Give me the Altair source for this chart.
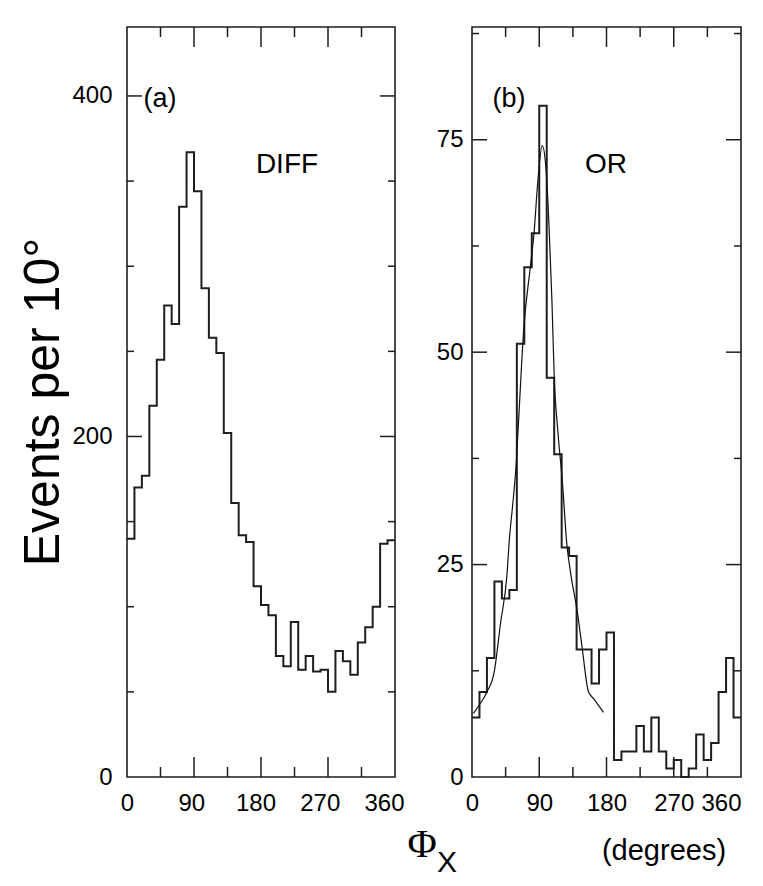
import altair as alt
import pandas as pd

# ---------------- data ----------------
edges = list(range(0, 370, 10))          # 0..360 bin edges (10 degree bins)
diff_counts = [140, 170, 177, 218, 245, 277, 266, 335, 367, 344, 287, 258,
               249, 202, 161, 142, 138, 112, 101, 95, 71, 65, 91, 63,
               71, 62, 63, 50, 74, 68, 60, 79, 88, 100, 137, 139]
or_counts = [7, 10, 14, 23, 21, 22, 51, 60, 64, 79, 47, 38,
             27, 26, 15, 15, 11, 15, 17, 2, 3, 3, 6, 3,
             7, 3, 1, 2, 0, 1, 5, 2, 4, 10, 14, 7]
fit_deg = [2, 10, 20, 30, 38, 47, 50, 54, 59, 63, 69, 78, 83, 88, 94, 99,
           101, 103, 107, 110, 115, 121, 127, 132, 141, 147, 156, 163, 176]
fit_val = [7.5, 8.5, 10, 12.5, 18, 24, 28, 31.6, 36.7, 43, 52.4, 60, 64, 70,
           74.3, 71.6, 68.8, 65, 56, 47.2, 40.6, 34.7, 27.3, 24, 19.4, 15.5,
           10, 9.2, 7.6]

x_labels = [0, 90, 180, 270, 360]
x_major = [90, 180, 270]
x_minor = [45, 135, 225, 315]
a_labels = [0, 200, 400]
a_major = [200, 400]
a_minor = [50, 100, 150, 250, 300, 350]
b_labels = [0, 25, 50, 75]
b_major = [25, 50, 75]
b_minor = [12.5, 37.5, 62.5, 87.5]

# ---------------- layout ----------------
WA, WB, H = 268, 269, 750
A_LABEL_SPAN = 257            # panel (a) labels sit slightly compressed
A_MAX = 440.5
B_MAX = 88.27
FONT = "Liberation Sans"
INK = "#1e1e1e"

xscale = alt.Scale(domain=[0, 360], nice=False, zero=False)


def x_axis(last_align):
    return alt.Axis(values=x_labels, title=None, ticks=False, domain=False,
                    tickSize=0, labelPadding=14, labelFlush=False,
                    labelOverlap=False, grid=False, orient="bottom",
                    labelAlign={"condition": {"test": "datum.value == 360",
                                              "value": last_align},
                                "value": "center"})


def y_axis(vals, pad):
    return alt.Axis(values=vals, title=None, ticks=False, domain=False,
                    tickSize=0, labelPadding=pad, labelOverlap=False,
                    grid=False)


def step_df(counts):
    return pd.DataFrame({"x": edges, "y": counts + [counts[-1]]})


def tick_layers(yscale, yax, xax, W, ymajor, yminor):
    layers = []
    for vals, ln in ((ymajor, 15), (yminor, 7)):
        df = pd.DataFrame({"y": vals})
        y = alt.Y("y:Q", scale=yscale, axis=yax)
        layers.append(alt.Chart(df).mark_rule(color=INK, strokeWidth=1.5).encode(
            y=y, x=alt.value(0), x2=alt.value(ln)))
        layers.append(alt.Chart(df).mark_rule(color=INK, strokeWidth=1.5).encode(
            y=y, x=alt.value(W), x2=alt.value(W - ln)))
    for vals, ln in ((x_major, 20), (x_minor, 10)):
        df = pd.DataFrame({"x": vals})
        x = alt.X("x:Q", scale=xscale, axis=xax)
        layers.append(alt.Chart(df).mark_rule(color=INK, strokeWidth=1.5).encode(
            x=x, y=alt.value(H), y2=alt.value(H - ln)))
        layers.append(alt.Chart(df).mark_rule(color=INK, strokeWidth=1.5).encode(
            x=x, y=alt.value(0), y2=alt.value(ln)))
    return layers


def label(txt, px, py, size, font=FONT, angle=0):
    kw = dict(fontSize=size, font=font, color="black", align="center",
              baseline="middle")
    if angle:
        kw["angle"] = angle
    return alt.Chart(alt.Data(values=[{}])).mark_text(**kw).encode(
        x=alt.value(px), y=alt.value(py), text=alt.value(txt))


# ---------------- panel (a) ----------------
ya = alt.Scale(domain=[0, A_MAX], nice=False, zero=False)
ya_axis = y_axis(a_labels, 15)
hist_a = alt.Chart(step_df(diff_counts)).mark_line(
    interpolate="step-after", color=INK, strokeWidth=2).encode(
    x=alt.X("x:Q", scale=xscale, axis=None),
    y=alt.Y("y:Q", scale=ya, axis=ya_axis))

# invisible layer that only carries the x tick labels of panel (a)
labels_a = alt.Chart(pd.DataFrame({"x": x_labels})).mark_point(
    opacity=0, size=1).encode(
    x=alt.X("x:Q", scale=alt.Scale(domain=[0, 360], range=[0, A_LABEL_SPAN],
                                   nice=False, zero=False),
            axis=x_axis("center")),
    y=alt.value(H / 2))

panel_a = alt.layer(
    alt.layer(hist_a, *tick_layers(ya, ya_axis, None, WA, a_major, a_minor),
              label("(a)", 33, 72, 27),
              label("DIFF", 160, 138, 28),
              label("Events per 10°", -83, 375, 50, angle=270)),
    labels_a,
).resolve_scale(x="independent").properties(width=WA, height=H)

# ---------------- panel (b) ----------------
yb = alt.Scale(domain=[0, B_MAX], nice=False, zero=False)
yb_axis = y_axis(b_labels, 9)
xb_axis = x_axis("right")
hist_b = alt.Chart(step_df(or_counts)).mark_line(
    interpolate="step-after", color=INK, strokeWidth=2).encode(
    x=alt.X("x:Q", scale=xscale, axis=xb_axis),
    y=alt.Y("y:Q", scale=yb, axis=yb_axis))
fit_b = alt.Chart(pd.DataFrame({"x": fit_deg, "y": fit_val})).mark_line(
    interpolate="monotone", color="#111", strokeWidth=1.2).encode(
    x=alt.X("x:Q", scale=xscale, axis=xb_axis),
    y=alt.Y("y:Q", scale=yb, axis=yb_axis))

panel_b = alt.layer(
    hist_b, fit_b, *tick_layers(yb, yb_axis, xb_axis, WB, b_major, b_minor),
    label("(b)", 37, 72, 27),
    label("OR", 134, 138, 28),
    label("Φ", -50, 818, 40, font="Liberation Serif"),
    label("X", -25, 836, 30),
    label("(degrees)", 192, 824, 29),
).properties(width=WB, height=H)

chart = alt.hconcat(panel_a, panel_b, spacing=77, bounds="flush").properties(
    padding={"left": 10, "top": 17, "right": 5, "bottom": 5}
).configure_view(stroke=INK, strokeWidth=1.6).configure_axis(
    labelFont=FONT, labelFontSize=24, labelColor="black", grid=False
).configure_text(font=FONT)

chart.save("out.html", embed_options={"renderer": "svg", "actions": False})
